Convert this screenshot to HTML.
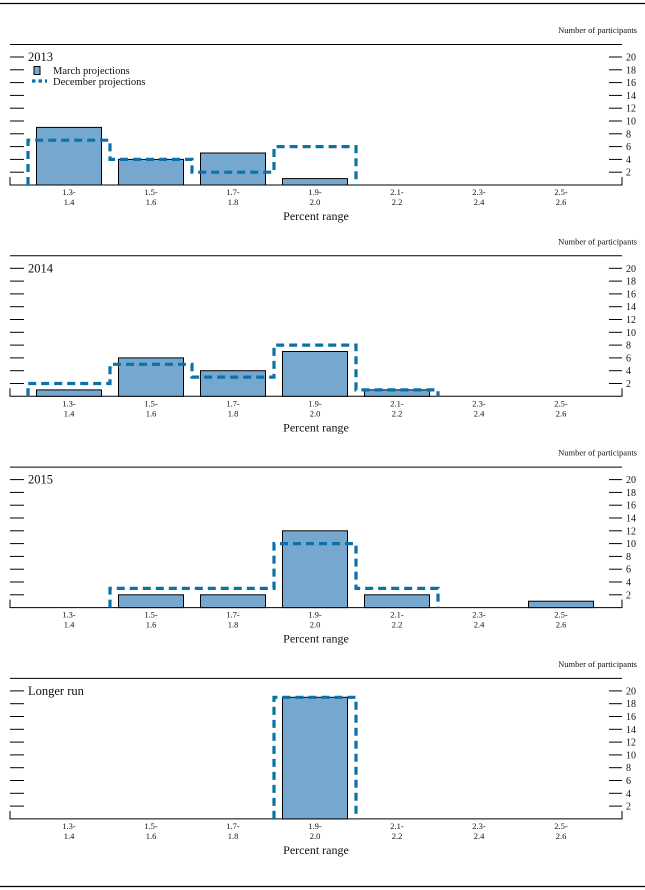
<!DOCTYPE html>
<html><head><meta charset="utf-8"><style>
html,body{margin:0;padding:0;background:#fff;}
svg{display:block;font-family:"Liberation Serif",serif;}
</style></head><body>
<svg id="chart" width="645" height="890" viewBox="0 0 645 890" xmlns="http://www.w3.org/2000/svg">
<line x1="0" y1="3.5" x2="645" y2="3.5" stroke="#000" stroke-width="1.2"/>
<line x1="0" y1="886.5" x2="645" y2="886.5" stroke="#000" stroke-width="1.2"/>
</svg>
<script>
const categories = [["1.3-","1.4"],["1.5-","1.6"],["1.7-","1.8"],["1.9-","2.0"],["2.1-","2.2"],["2.3-","2.4"],["2.5-","2.6"]];
const panelTitles = ["2013","2014","2015","Longer run"];
const marchValues = [
  [9,4,5,1,0,0,0],
  [1,6,4,7,1,0,0],
  [0,2,2,12,2,0,1],
  [0,0,0,19,0,0,0]
];
const decemberValues = [
  [7,4,2,6,0,0,0],
  [2,5,3,8,1,0,0],
  [0,3,3,10,3,0,0],
  [0,0,0,19,0,0,0]
];
const yTicks = [2,4,6,8,10,12,14,16,18,20];

const NS = "http://www.w3.org/2000/svg";
const svg = document.getElementById("chart");
const X0 = 10, X1 = 622, C0 = 69, STEP = 82, UNIT = 6.4;
function xc(i){ return C0 + i*STEP; }
function mk(tag, attrs, parent){
  const e = document.createElementNS(NS, tag);
  for (const k in attrs) e.setAttribute(k, attrs[k]);
  (parent||svg).appendChild(e);
  return e;
}
function txt(x,y,s,size,anchor,parent){
  const t = mk("text",{x:x,y:y,"font-size":size,"text-anchor":anchor||"start",fill:"#111"},parent);
  t.textContent = s;
  return t;
}

panelTitles.forEach((title, p) => {
  const base = 185 + p*211.3;
  const yv = v => base - v*UNIT;
  const g = mk("g",{});
  
  

  const np = txt(637, base-152, "Number of participants", 8.5, "end", g);
  
  

  const tl = mk("line",{x1:X0,y1:base-140.5,x2:X1,y2:base-140.5,stroke:"#000","stroke-width":1},g);
  
  

  const ax = mk("path",{d:`M${X0},${base-8} V${base} H${X1} V${base-8}`,fill:"none",stroke:"#000","stroke-width":1},g);
  
  

  yTicks.forEach(v => {
    const y = yv(v);
    const lt = mk("line",{x1:X0,y1:y,x2:X0+14,y2:y,stroke:"#000","stroke-width":1},g);
    
    
    const rt = mk("line",{x1:X1-13,y1:y,x2:X1,y2:y,stroke:"#000","stroke-width":1},g);
    
    
    const lab = txt(626, y+3.5, String(v), 10, "start", g);
    
    
  });

  const tt = txt(28, base-124, title, 12.5, "start", g);
  
  

  marchValues[p].forEach((v,i) => {
    if (v <= 0) return;
    const r = mk("rect",{x:xc(i)-32.5,y:yv(v),width:65,height:v*UNIT,fill:"#76a8cf",stroke:"#000","stroke-width":1},g);
    
    
  });

  // December step outline between first and last nonzero category
  const dv = decemberValues[p];
  let first = -1, last = -1;
  dv.forEach((v,i) => { if (v > 0){ if (first < 0) first = i; last = i; } });
  if (first >= 0){
    let d = `M${xc(first)-41},${base} `;
    for (let i=first;i<=last;i++){
      d += `L${xc(i)-41},${yv(dv[i])} L${xc(i)+41},${yv(dv[i])} `;
    }
    d += `L${xc(last)+41},${base}`;
    const path = mk("path",{d:d,fill:"none",stroke:"#0a72a8","stroke-width":3.2,"stroke-dasharray":"8,5"},g);
    
    
  }

  categories.forEach((c,i) => {
    const a = txt(xc(i), base+10, c[0], 8.5, "middle", g);
    
    
    const b = txt(xc(i), base+20, c[1], 8.5, "middle", g);
    
    
  });
  const xt = txt(316, base+35, "Percent range", 12, "middle", g);
  
  

  if (p === 0){
    const lg = mk("g",{},g);
    
    
    const sw = mk("rect",{x:34,y:66.5,width:6,height:8,fill:"#76a8cf",stroke:"#000","stroke-width":1},lg);
    
    
    const l1 = txt(53, 74, "March projections", 10.5, "start", lg);
    
    
    const dl = mk("line",{x1:32,y1:81,x2:47,y2:81,stroke:"#0a72a8","stroke-width":3.2,"stroke-dasharray":"3.5,3"},lg);
    
    
    const l2 = txt(53, 85, "December projections", 10.5, "start", lg);
    
    
  }
});
</script>
</body></html>
